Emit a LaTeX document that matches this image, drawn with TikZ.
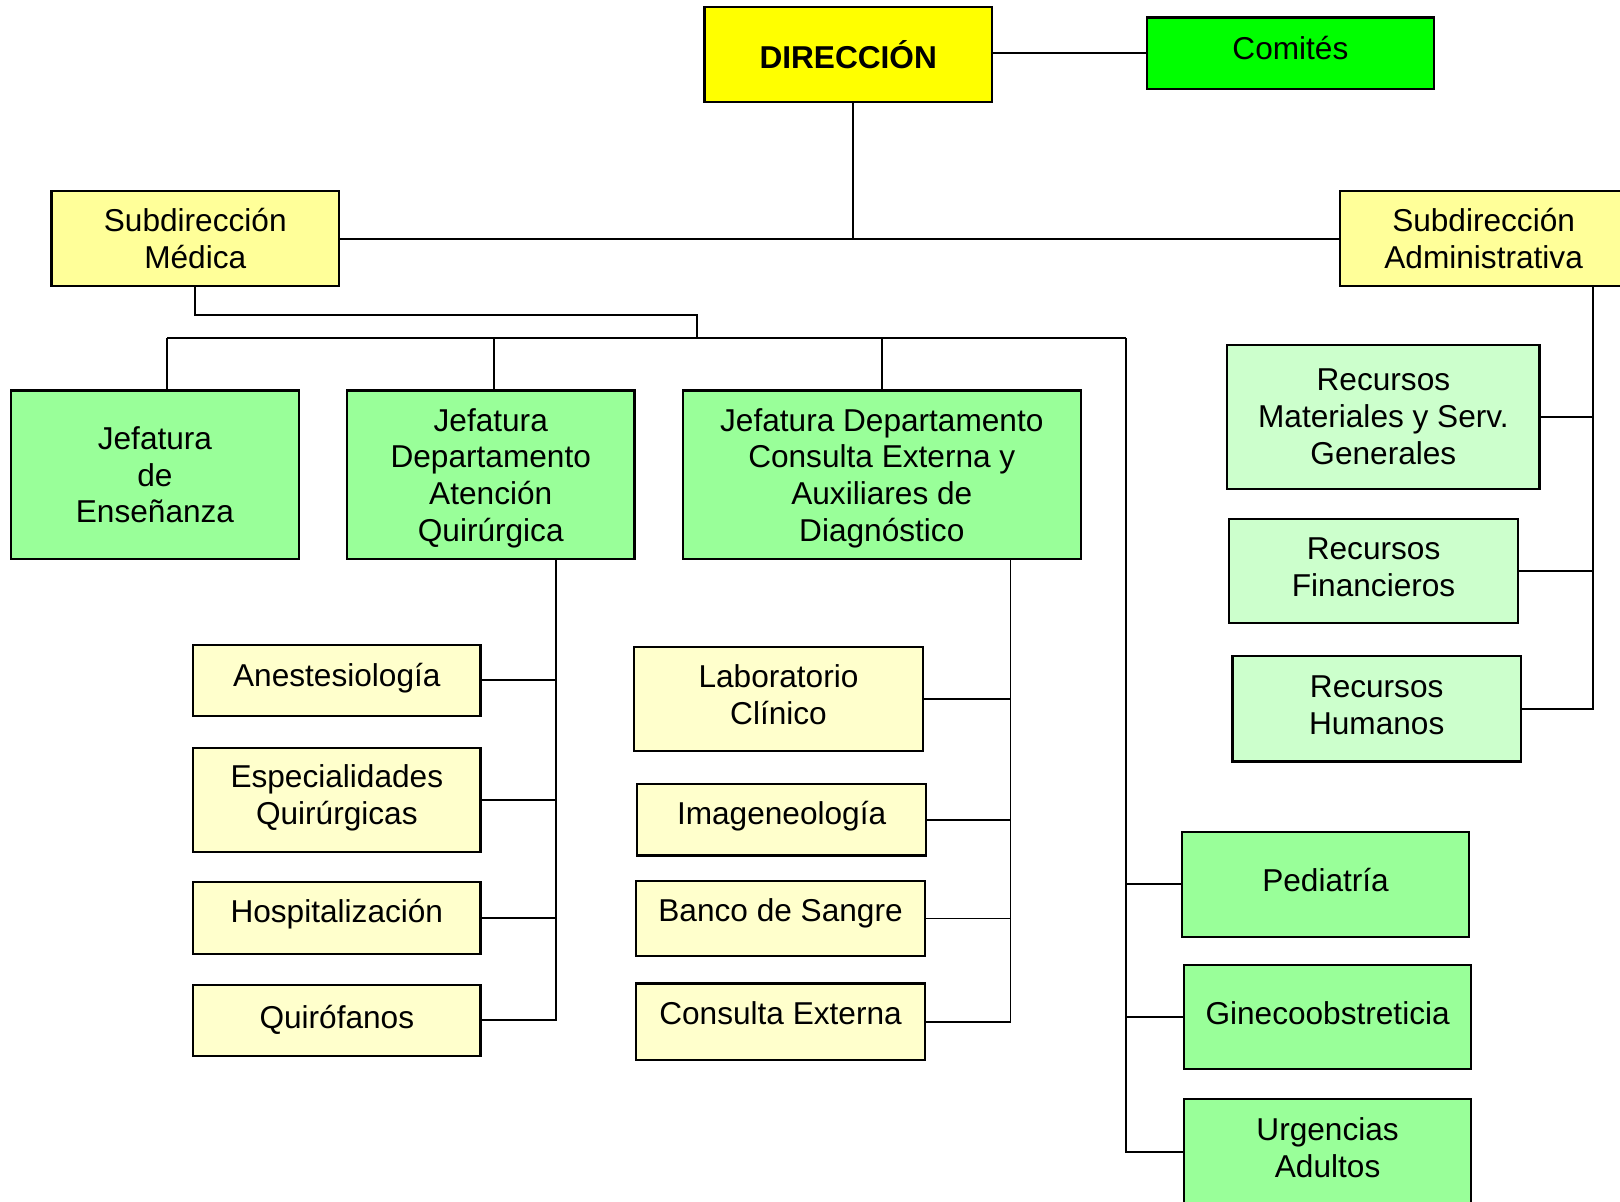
\documentclass[tikz,border=0pt]{standalone}
\usepackage{fontspec}
\setmainfont{Liberation Sans}
\usepackage{tikz}
\usetikzlibrary{calc,positioning}

\definecolor{amarillo}{HTML}{FFFF00}
\definecolor{amarillosub}{HTML}{FFFF99}
\definecolor{amarilloclaro}{HTML}{FFFFCC}
\definecolor{verdecomite}{HTML}{00FF00}
\definecolor{verde}{HTML}{99FF99}
\definecolor{verdeclaro}{HTML}{CCFFCC}

\tikzset{
  caja/.style={draw, line width=0.6pt, inner sep=0pt, align=center,
    font=\fontsize{8.7}{10.1}\selectfont},
  arriba/.style={text depth=#1},
  arriba/.default=3pt,
  linea/.style={line width=0.5pt}
}

\begin{document}
\begin{tikzpicture}[x=0.01cm, y=-0.01cm]
        \useasboundingbox (0,0) rectangle (1568,1163);
        \clip (0,0) rectangle (1568,1163);

        % dirección y subdirecciones
        \node[caja, fill=amarillo, minimum width=2.78cm, minimum height=0.92cm,
              font=\fontsize{8.7}{10.1}\selectfont\bfseries] (dir) at (821,53) {DIRECCIÓN};
        \node[caja, arriba, fill=verdecomite, minimum width=2.78cm, minimum height=0.69cm] (com) at (1249,51.5) {Comités};
        \node[caja, fill=amarillosub, minimum width=2.78cm, minimum height=0.92cm] (smed) at (189,231) {Subdirección\\Médica};
        \node[caja, fill=amarillosub, minimum width=2.78cm, minimum height=0.92cm] (sadm) at (1436,231) {Subdirección\\Administrativa};

        % jefaturas
        \node[caja, fill=verde, minimum width=2.78cm, minimum height=1.63cm] (jense) at (150,459.5) {Jefatura\\de\\Enseñanza};
        \node[caja, arriba=0pt, fill=verde, minimum width=2.78cm, minimum height=1.63cm] (jquir) at (475,459.5) {Jefatura\\Departamento\\Atención\\Quirúrgica};
        \node[caja, arriba=0pt, fill=verde, minimum width=3.85cm, minimum height=1.63cm] (jcons) at (853.5,459.5) {Jefatura Departamento\\Consulta Externa y\\Auxiliares de\\Diagnóstico};

        % atención quirúrgica
        \node[caja, arriba, fill=amarilloclaro, minimum width=2.78cm, minimum height=0.69cm] (anes) at (326,658.5) {Anestesiología};
        \node[caja, arriba, fill=amarilloclaro, minimum width=2.78cm, minimum height=1.01cm] (espq) at (326,774.5) {Especialidades\\Quirúrgicas};
        \node[caja, arriba=4pt, fill=amarilloclaro, minimum width=2.78cm, minimum height=0.69cm] (hosp) at (326,888.5) {Hospitalización};
        \node[caja, arriba=2pt, fill=amarilloclaro, minimum width=2.78cm, minimum height=0.69cm] (quirof) at (326,987.5) {Quirófanos};

        % consulta externa y auxiliares
        \node[caja, arriba=2.5pt, fill=amarilloclaro, minimum width=2.79cm, minimum height=1.01cm] (lab) at (753.5,676.5) {Laboratorio\\Clínico};
        \node[caja, arriba=4pt, fill=amarilloclaro, minimum width=2.79cm, minimum height=0.69cm] (imag) at (756.5,793.5) {Imageneología};
        \node[caja, arriba=4.5pt, fill=amarilloclaro, minimum width=2.79cm, minimum height=0.72cm] (banco) at (755.5,889) {Banco de Sangre};
        \node[caja, arriba=5pt, fill=amarilloclaro, minimum width=2.79cm, minimum height=0.74cm] (cext) at (755.5,989) {Consulta Externa};

        % recursos
        \node[caja, fill=verdeclaro, minimum width=3.02cm, minimum height=1.39cm] (rmat) at (1339,403.5) {Recursos\\Materiales y Serv.\\Generales};
        \node[caja, arriba=2pt, fill=verdeclaro, minimum width=2.79cm, minimum height=1.01cm] (rfin) at (1329.5,552.5) {Recursos\\Financieros};
        \node[caja, arriba=2pt, fill=verdeclaro, minimum width=2.79cm, minimum height=1.02cm] (rhum) at (1332.5,686) {Recursos\\Humanos};

        % servicios
        \node[caja, arriba=2.5pt, fill=verde, minimum width=2.78cm, minimum height=1.02cm] (ped) at (1283,856) {Pediatría};
        \node[caja, arriba=2.5pt, fill=verde, minimum width=2.78cm, minimum height=1.01cm] (gine) at (1285,984.5) {Ginecoobstreticia};
        \node[caja, arriba=2.5pt, fill=verde, minimum width=2.78cm, minimum height=1.02cm] (urg) at (1285,1115) {Urgencias\\Adultos};

        % puntos de las líneas
        \coordinate (dbaja) at ([xshift=0.05cm]dir.south);
        \coordinate (codo) at (675,305);
        \coordinate (busL) at (162,327);
        \coordinate (busR) at (1090,327);
        \coordinate (qtop) at (538,541);
        \coordinate (ctop) at (978,541);
        \coordinate (atop) at (1542,277);

        \draw[linea] (com.west) -- (com.west -| dir.east);
        \draw[linea] (dbaja) -- (dbaja |- smed.east);
        \draw[linea] (smed.east) -- (sadm.west);

        \draw[linea] (smed.south) |- (codo) -- (codo |- busL);
        \draw[linea] (busL) -- (busR);
        \draw[linea] (busL) -- (busL |- jense.north);
        \draw[linea] ([xshift=0.03cm]jquir.north) -- ([xshift=0.03cm]jquir.north |- busL);
        \draw[linea] (jcons.north) -- (jcons.north |- busL);

        \draw[linea] (busR) |- (urg.west);
        \draw[linea] (ped.west) -- (ped.west -| busR);
        \draw[linea] (gine.west) -- (gine.west -| busR);

        \draw[linea] (qtop) |- (quirof.east);
        \draw[linea] (anes.east) -- (anes.east -| qtop);
        \draw[linea] (espq.east) -- (espq.east -| qtop);
        \draw[linea] (hosp.east) -- (hosp.east -| qtop);

        \draw[linea] (ctop) |- (cext.east);
        \draw[linea] (lab.east) -- (lab.east -| ctop);
        \draw[linea] (imag.east) -- (imag.east -| ctop);
        \draw[linea] (banco.east) -- (banco.east -| ctop);

        \draw[linea] (atop) |- (rhum.east);
        \draw[linea] (rmat.east) -- (rmat.east -| atop);
        \draw[linea] (rfin.east) -- (rfin.east -| atop);
    \end{tikzpicture}
\end{document}
